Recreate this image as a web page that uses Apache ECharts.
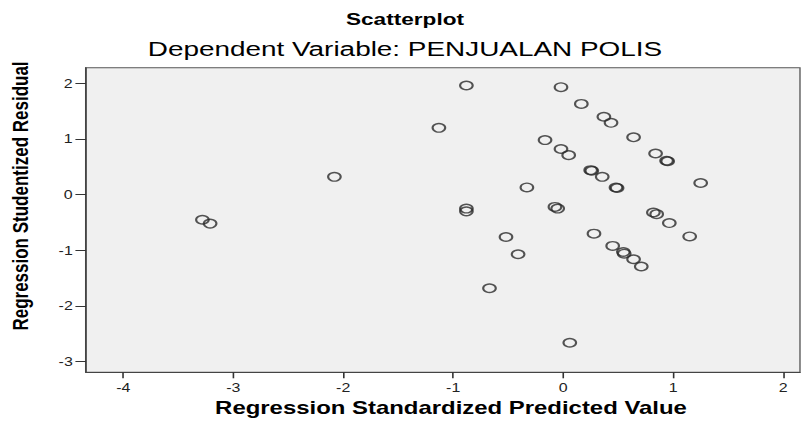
<!DOCTYPE html>
<html>
<head>
<meta charset="utf-8">
<script src="https://cdn.jsdelivr.net/npm/echarts@6/dist/echarts.min.js"></script>
<style>
  html, body { margin: 0; padding: 0; background: #ffffff; overflow: hidden; }
  #wrap { width: 810px; height: 427px; overflow: hidden; }
  /* SPSS-style output is drawn narrow, then stretched to the page width */
  #chart { width: 609px; height: 427px; transform: scaleX(1.33); transform-origin: 0 0; }
</style>
</head>
<body>
<div id="wrap"><div id="chart"></div></div>
<script>
// Regression standardized predicted values (x) and studentized residuals (y)
const predicted = [
  -3.28, -3.21, -2.08, -1.13, -0.88, -0.88, -0.88, -0.67, -0.52, -0.41,
  -0.33, -0.165, -0.075, -0.05, -0.02, -0.02, 0.05, 0.06, 0.165, 0.25,
  0.26, 0.28, 0.355, 0.37, 0.435, 0.45, 0.48, 0.49, 0.547, 0.555,
  0.64, 0.64, 0.71, 0.82, 0.85, 0.84, 0.94, 0.95, 0.965, 1.15, 1.25
];
const residual = [
  -0.45, -0.52, 0.32, 1.20, 1.96, -0.25, -0.30, -1.68, -0.76, -1.07,
  0.13, 0.98, -0.22, -0.25, 1.93, 0.82, 0.71, -2.66, 1.63, 0.44,
  0.43, -0.70, 0.32, 1.40, 1.29, -0.92, 0.13, 0.12, -1.03, -1.06,
  1.03, -1.16, -1.29, -0.32, -0.35, 0.74, 0.61, 0.60, -0.51, -0.75, 0.21
];
const xTicks = [-4, -3, -2, -1, 0, 1, 2];
const yTicks = [-3, -2, -1, 0, 1, 2];

const points = predicted.map((v, i) => [v, residual[i]]);
const font = 'Liberation Sans, Arial, sans-serif';

const chart = echarts.init(document.getElementById('chart'), null, { renderer: 'svg' });
chart.setOption({
  animation: false,
  backgroundColor: '#ffffff',
  title: [
    {
      text: 'Scatterplot',
      left: 'center',
      top: 6,
      textStyle: { fontFamily: font, fontSize: 17, fontWeight: 'bold', color: '#000' }
    },
    {
      text: 'Dependent Variable: PENJUALAN POLIS',
      left: 'center',
      top: 33,
      textStyle: { fontFamily: font, fontSize: 21, fontWeight: 500, color: '#000' }
    }
  ],
  grid: {
    left: 64.7, right: 7.5, top: 67.7, bottom: 54.7,
    outerBoundsMode: 'none',
    containLabel: false,
    show: true, backgroundColor: '#f0f0f0', borderColor: '#555', borderWidth: 1
  },
  xAxis: {
    type: 'value',
    min: -4.338, max: 2.153,
    name: 'Regression Standardized Predicted Value',
    nameLocation: 'middle',
    nameGap: 26,
    nameTextStyle: { fontFamily: font, fontSize: 18, fontWeight: 'bold', color: '#000', padding: [0, 0, 0, 12] },
    axisLine: { show: true, onZero: false, lineStyle: { color: '#444', width: 1.2 } },
    axisTick: { show: true, customValues: xTicks, length: 6, lineStyle: { color: '#333', width: 1.2 } },
    axisLabel: { customValues: xTicks, fontFamily: font, fontSize: 12, color: '#222', margin: 9 },
    splitLine: { show: false }
  },
  yAxis: {
    type: 'value',
    min: -3.19, max: 2.28,
    name: 'Regression Studentized Residual',
    nameLocation: 'middle',
    nameGap: 41,
    nameTextStyle: { fontFamily: font, fontSize: 17, fontWeight: 'bold', color: '#000', padding: [0, 0, 0, 48] },
    axisLine: { show: true, onZero: false, lineStyle: { color: '#444', width: 1.2 } },
    axisTick: { show: true, customValues: yTicks, length: 8, lineStyle: { color: '#333', width: 1 } },
    axisLabel: { customValues: yTicks, fontFamily: font, fontSize: 12, color: '#222', margin: 10 },
    splitLine: { show: false }
  },
  series: [{
    type: 'scatter',
    data: points,
    symbol: 'circle',
    symbolSize: [9.5, 8.5],
    itemStyle: { color: 'rgba(0,0,0,0)', borderColor: '#2a2a2a', borderWidth: 1.5 }
  }]
});
</script>
</body>
</html>
